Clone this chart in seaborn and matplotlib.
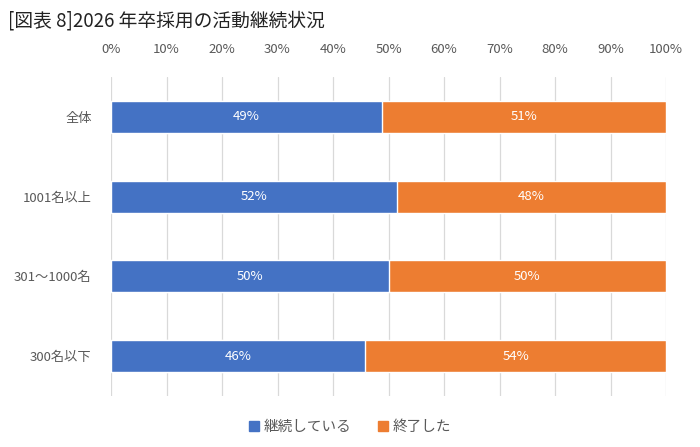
import matplotlib
matplotlib.use("Agg")
import matplotlib.pyplot as plt
import seaborn as sns
import pandas as pd
from matplotlib.patches import Patch
from matplotlib.ticker import PercentFormatter

# data
categories = ["全体", "1001名以上", "301〜1000名", "300名以下"]
continuing = [48.8, 51.5, 50.0, 45.8]
finished = [51.2, 48.5, 50.0, 54.2]
series_names = ["継続している", "終了した"]
title = "[図表 8]2026 年卒採用の活動継続状況"

blue = "#4472C4"
orange = "#ED7D31"
gray = "#595959"

sns.set_theme(style="white")
plt.rcParams["font.family"] = ["Noto Sans CJK JP", "DejaVu Sans"]

df = pd.DataFrame({"cat": categories, "cont": continuing, "fin": finished})
df["total"] = df["cont"] + df["fin"]

fig = plt.figure(figsize=(7, 4.47), dpi=100)
ax = fig.add_axes([111 / 700, 1 - 396 / 447, 555 / 700, 319 / 447])

# stacked: full bar in orange, then blue on top
sns.barplot(data=df, x="total", y="cat", color=orange, orient="h", width=0.4,
            saturation=1, ax=ax)
sns.barplot(data=df, x="cont", y="cat", color=blue, orient="h", width=0.4,
            saturation=1, ax=ax)

for i, row in df.iterrows():
    ax.text(row["cont"] / 2, i, f"{row['cont']:.0f}%", ha="center", va="center",
            color="white", fontsize=9.5)
    ax.text(row["cont"] + row["fin"] / 2, i, f"{row['fin']:.0f}%", ha="center",
            va="center", color="white", fontsize=9.5)

ax.set_xlim(0, 100)
ax.set_ylim(3.5, -0.5)
ax.set_xticks(range(0, 101, 10))
ax.xaxis.set_major_formatter(PercentFormatter(decimals=0))
ax.xaxis.tick_top()
ax.tick_params(axis="x", length=0, pad=15, labelsize=9.5, colors=gray)
ax.tick_params(axis="y", length=0, pad=14, labelsize=9.5, colors=gray)
ax.set_xlabel("")
ax.set_ylabel("")
ax.grid(axis="x", color="#D9D9D9", linewidth=0.9)
ax.set_axisbelow(True)
for s in ax.spines.values():
    s.set_visible(False)

fig.text(8 / 700, 1 - 21 / 447, title, fontsize=13.5, color="#222222",
         ha="left", va="center")

handles = [Patch(color=blue, label=series_names[0]),
           Patch(color=orange, label=series_names[1])]
fig.legend(handles=handles, loc="center", bbox_to_anchor=(0.5, 1 - 427 / 447),
           ncol=2, frameon=False, fontsize=10.5, labelcolor=gray,
           handlelength=0.7, handleheight=0.7, handletextpad=0.3,
           columnspacing=1.8)

fig.savefig("out.png", dpi=100)
